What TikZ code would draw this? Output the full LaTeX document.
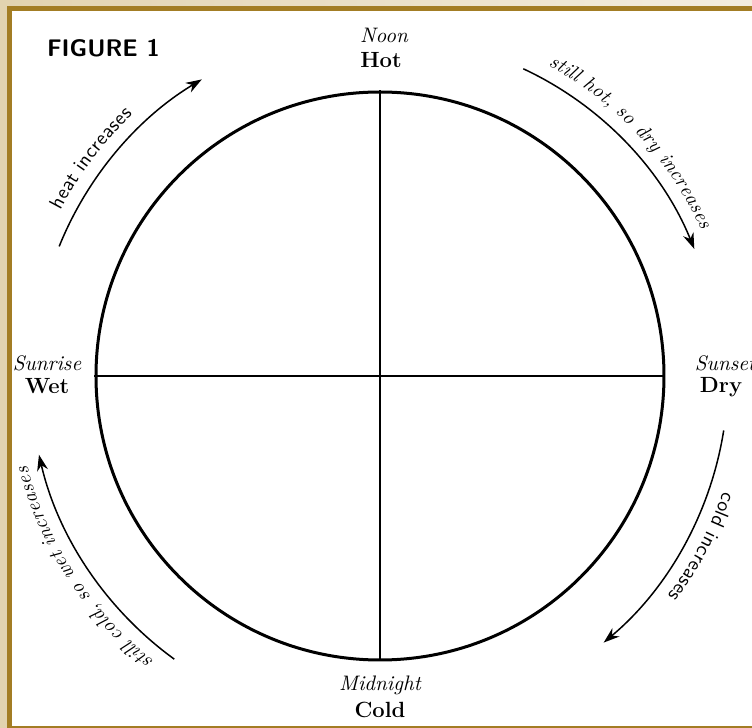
\documentclass[tikz,border=0pt]{standalone}
\usetikzlibrary{arrows.meta, decorations.text, positioning}
\definecolor{framegold}{RGB}{163,125,36}
\definecolor{paper}{RGB}{226,211,176}

\tikzset{
  cycle arc/.style={line width=0.75pt, -{Stealth[length=8pt, width=5.5pt]}},
  time/.style={font=\fontsize{10.5}{12}\selectfont\itshape, inner sep=0pt},
  state/.style={font=\fontsize{11}{13}\selectfont\bfseries, inner sep=0pt},
  arc label/.style={decorate, decoration={text along path, raise=7pt, text align=center, text={#1}}}
}

\begin{document}
\begin{tikzpicture}[x=0.5pt, y=0.5pt]
  \useasboundingbox (-380,-352) rectangle (372,376);
  % background and frame
  \shade[left color=paper, right color=paper!40] (-380,-352) rectangle (372,376);
  \draw[framegold, line width=2.5pt, fill=white] (-370.5,-353) rectangle (400,367.5);
  \node[anchor=west, font=\sffamily\bfseries\fontsize{12}{14}\selectfont] (figure) at (-340,328) {FIGURE 1};

  % the dial
  \node[circle, draw, line width=1.5pt, minimum size=284pt, inner sep=0pt] (dial) at (0,0) {};
  \draw[line width=1pt] (dial.west) -- (dial.east);
  \draw[line width=1pt] (dial.north) -- (dial.south);

  % times and states
  \node[state] (hot) at (1,316) {Hot};
  \node[time] (noon) at (4,341) {Noon};
  \node[time] (sunrise) at (-333,13) {Sunrise};
  \node[state] (wet) at (-333,-10) {Wet};
  \node[time] (sunset) at (345,13) {Sunset};
  \node[state] (dry) at (341,-11) {Dry};
  \node[time] (midnight) at (0,-309) {Midnight};
  \node[state] (cold) at (0,-334) {Cold};

  % arrows round the dial
  \coordinate (heat start) at (158:346);
  \coordinate (dryness start) at (65:339);
  \coordinate (coldness start) at (-9:348);
  \coordinate (wetness start) at (234:350);
  \draw[cycle arc] (heat start) arc[start angle=158, end angle=121, radius=346];
  \draw[cycle arc] (dryness start) arc[start angle=65, end angle=22, radius=339];
  \draw[cycle arc] (coldness start) arc[start angle=-9, end angle=-50, radius=348];
  \draw[cycle arc] (wetness start) arc[start angle=234, end angle=193, radius=350];

  % labels along the arrows
  \path[arc label={|\sffamily\fontsize{10}{12}\selectfont|heat increases}] (178:346) arc[start angle=178, end angle=108, radius=346];
  \path[arc label={|\itshape\fontsize{10}{12}\selectfont|still hot, so dry increases}] (78:339) arc[start angle=78, end angle=8, radius=339];
  \path[arc label={|\sffamily\fontsize{10}{12}\selectfont|cold increases}] (7:348) arc[start angle=7, end angle=-63, radius=348];
  \path[arc label={|\itshape\fontsize{10}{12}\selectfont|still cold, so wet increases}] (248:350) arc[start angle=248, end angle=178, radius=350];
\end{tikzpicture}
\end{document}
